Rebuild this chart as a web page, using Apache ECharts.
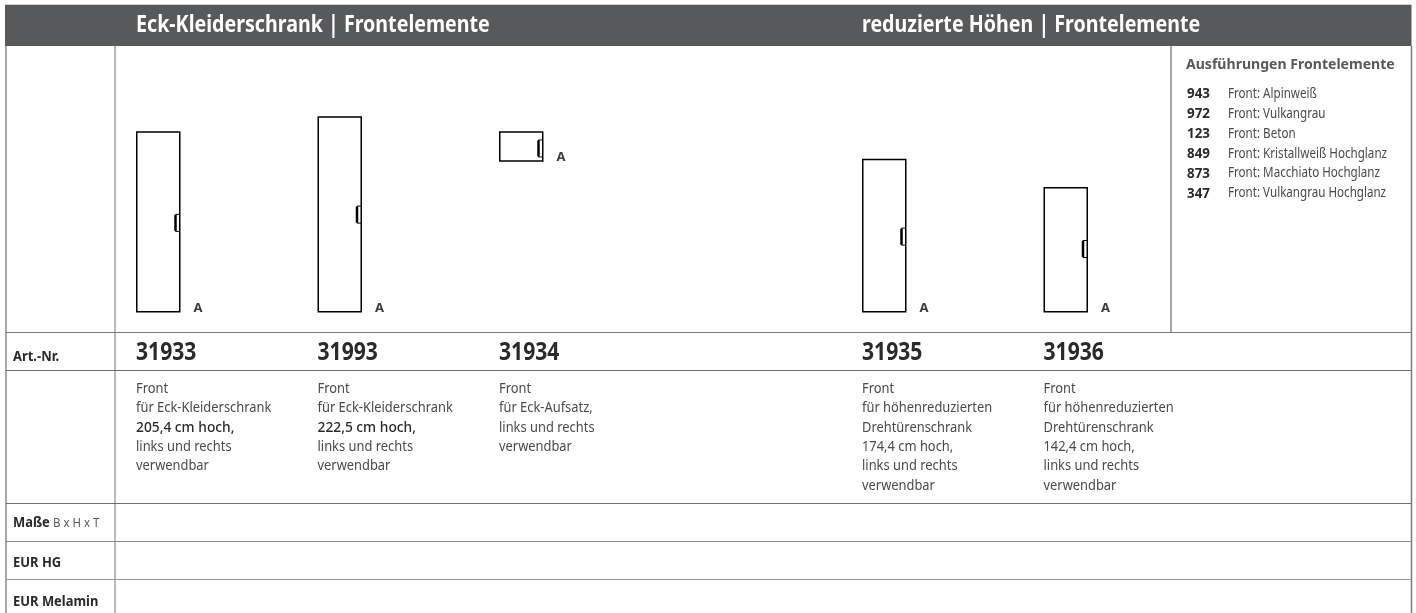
<!DOCTYPE html>
<html>
<head>
<meta charset="utf-8">
<title>Frontelemente</title>
<script src="https://cdn.jsdelivr.net/npm/echarts@6/dist/echarts.min.js"></script>
<style>
  html, body { margin: 0; padding: 0; background: #fff; }
  #chart { width: 1416px; height: 613px; }
</style>
</head>
<body>
<div id="chart"></div>
<script>
// slots on the x axis, the empty ones keep the column spacing of the sheet
const articles = ['31933', '31993', '31934', '', '31935', '31936', ''];
const doorBase = [0, 0, 171, 0, 0, 0, 0];
const doorHeights = [205.4, 222.5, 34.4, null, 174.4, 142.4, null];
const handleHeights = [101.6, 111, 186, null, 86, 72, null];
const doorMark = 'A';

const descriptions = [
  ['Front', 'für Eck-Kleiderschrank', '*205,4 cm hoch,', 'links und rechts', 'verwendbar'],
  ['Front', 'für Eck-Kleiderschrank', '*222,5 cm hoch,', 'links und rechts', 'verwendbar'],
  ['Front', 'für Eck-Aufsatz,', 'links und rechts', 'verwendbar'],
  [],
  ['Front', 'für höhenreduzierten', 'Drehtürenschrank', '174,4 cm hoch,', 'links und rechts', 'verwendbar'],
  ['Front', 'für höhenreduzierten', 'Drehtürenschrank', '142,4 cm hoch,', 'links und rechts', 'verwendbar'],
  []
];

const headerTitles = ['Eck-Kleiderschrank | Frontelemente', 'reduzierte Höhen | Frontelemente'];
const finishTitle = 'Ausführungen Frontelemente';
const finishCodes = ['943', '972', '123', '849', '873', '347'];
const finishNames = ['Front: Alpinweiß', 'Front: Vulkangrau', 'Front: Beton',
  'Front: Kristallweiß Hochglanz', 'Front: Macchiato Hochglanz', 'Front: Vulkangrau Hochglanz'];

const FONT = '"Noto Sans", sans-serif';
const colStep = 181.5;
const colLeft = 136;
const doorWidth = 44.5;
const floorY = 312.5;
const pxPerCm = 0.882;
const rightEdge = 1411.5;

// text narrowed with scaleX, the original face is much more condensed than Noto Sans
function label(x, y, text, size, opts) {
  opts = opts || {};
  return {
    type: 'text', x: x, y: y, scaleX: opts.sx || 0.8, silent: true,
    style: {
      text: text, fill: opts.color || '#2b2a29', font: (opts.weight || 'normal') + ' ' + size + 'px ' + FONT,
      textVerticalAlign: 'middle', textBaseline: 'middle'
    }
  };
}

function rule(x1, y1, x2, y2, color, width) {
  return {
    type: 'line', silent: true,
    shape: { x1: x1, y1: y1, x2: x2, y2: y2 },
    style: { stroke: color, lineWidth: width }
  };
}

const elements = [
  rule(5, 4.5, rightEdge, 4.5, '#d0d0d0', 1),
  { type: 'rect', silent: true, shape: { x: 5, y: 5, width: rightEdge - 5, height: 41 }, style: { fill: '#58595b' } },
  rule(6, 46, 6, 613, '#8a8a8a', 1.5),
  rule(115, 46, 115, 613, '#a0a0a0', 1.5),
  rule(1171, 46, 1171, 333, '#8a8a8a', 1.5),
  rule(rightEdge, 46, rightEdge, 613, '#7a7a7a', 1.5),
  rule(6, 332.5, rightEdge, 332.5, '#7a7a7a', 1.2),
  rule(6, 370.5, rightEdge, 370.5, '#6d6e70', 1.2),
  rule(6, 503.5, rightEdge, 503.5, '#6d6e70', 1.2),
  rule(6, 541.5, rightEdge, 541.5, '#8a8a8a', 1.2),
  rule(6, 579.5, rightEdge, 579.5, '#9a9a9a', 1.2),
  label(136, 25.5, headerTitles[0], 23, { weight: 'bold', color: '#fff', sx: 0.854 }),
  label(862, 25.5, headerTitles[1], 23, { weight: 'bold', color: '#fff', sx: 0.854 }),
  label(1186, 65, finishTitle, 15, { weight: 'bold', color: '#58595b', sx: 0.937 }),
  label(13, 357, 'Art.-Nr.', 14, { weight: 'bold', sx: 0.925 }),
  label(13, 523, 'Maße', 14, { weight: 'bold', sx: 0.925 }),
  label(53, 523, 'B x H x T', 13, { color: '#58595b', sx: 0.88 }),
  label(13, 563.5, 'EUR HG', 14, { weight: 'bold', sx: 0.925 }),
  label(13, 602, 'EUR Melamin', 14, { weight: 'bold', sx: 0.925 })
];

finishCodes.forEach(function (code, i) {
  const y = 94 + i * 19.9;
  elements.push(label(1187, y, code, 14.5, { weight: 'bold', sx: 0.92 }));
  elements.push(label(1228, y, finishNames[i], 13.5, { color: '#4a4a4a', sx: 0.86 }));
});

articles.forEach(function (art, i) {
  const x = colLeft + i * colStep;
  if (art) elements.push(label(x, 352.5, art, 25, { weight: 'bold', sx: 0.845 }));
  descriptions[i].forEach(function (line, j) {
    const strong = line.charAt(0) === '*';
    elements.push(label(x, 389 + j * 19.3, strong ? line.slice(1) : line, 14.5,
      { sx: strong ? 0.95 : 0.889, weight: strong ? '500' : 'normal', color: strong ? '#2b2a29' : '#4a4a4a' }));
  });
});

const chart = echarts.init(document.getElementById('chart'), null, { renderer: 'canvas' });

chart.setOption({
  animation: false,
  backgroundColor: '#fff',
  grid: {
    left: colLeft + doorWidth / 2 - colStep / 2,
    width: colStep * articles.length,
    top: floorY - 250 * pxPerCm,
    height: 250 * pxPerCm
  },
  xAxis: { type: 'category', data: articles, show: false },
  yAxis: { type: 'value', min: 0, max: 250, show: false },
  graphic: { elements: elements },
  series: [
    {
      type: 'bar', stack: 'door', barWidth: doorWidth, silent: true,
      data: doorBase,
      itemStyle: { color: 'transparent' }
    },
    {
      type: 'bar', stack: 'door', barWidth: doorWidth, silent: true,
      data: doorHeights,
      itemStyle: { color: '#fff', borderColor: '#000', borderWidth: 1.5 },
      label: {
        show: true, formatter: doorMark, position: ['100%', '100%'], offset: [13, -11],
        color: '#3c3c3c', fontFamily: FONT, fontWeight: 'bold', fontSize: 13
      }
    },
    {
      // door handles sit on the same axes as the doors
      type: 'custom', silent: true, z: 5,
      data: handleHeights.map(function (h, i) { return [i, h]; }).filter(function (d) { return d[1] !== null; }),
      encode: { x: 0, y: 1 },
      renderItem: function (params, api) {
        const p = api.coord([api.value(0), api.value(1)]);
        const right = p[0] + doorWidth / 2;
        return {
          type: 'group',
          children: [
            { type: 'polyline', shape: { points: [[right - 1, p[1] - 8.5], [right - 5, p[1] - 8.5], [right - 5, p[1] + 8.5], [right - 1, p[1] + 8.5]] }, style: { fill: 'none', stroke: '#000', lineWidth: 1 } },
            { type: 'line', shape: { x1: right - 5, y1: p[1] - 8, x2: right - 5, y2: p[1] + 8 }, style: { stroke: '#000', lineWidth: 2.5 } }
          ]
        };
      }
    }
  ]
});
</script>
</body>
</html>
